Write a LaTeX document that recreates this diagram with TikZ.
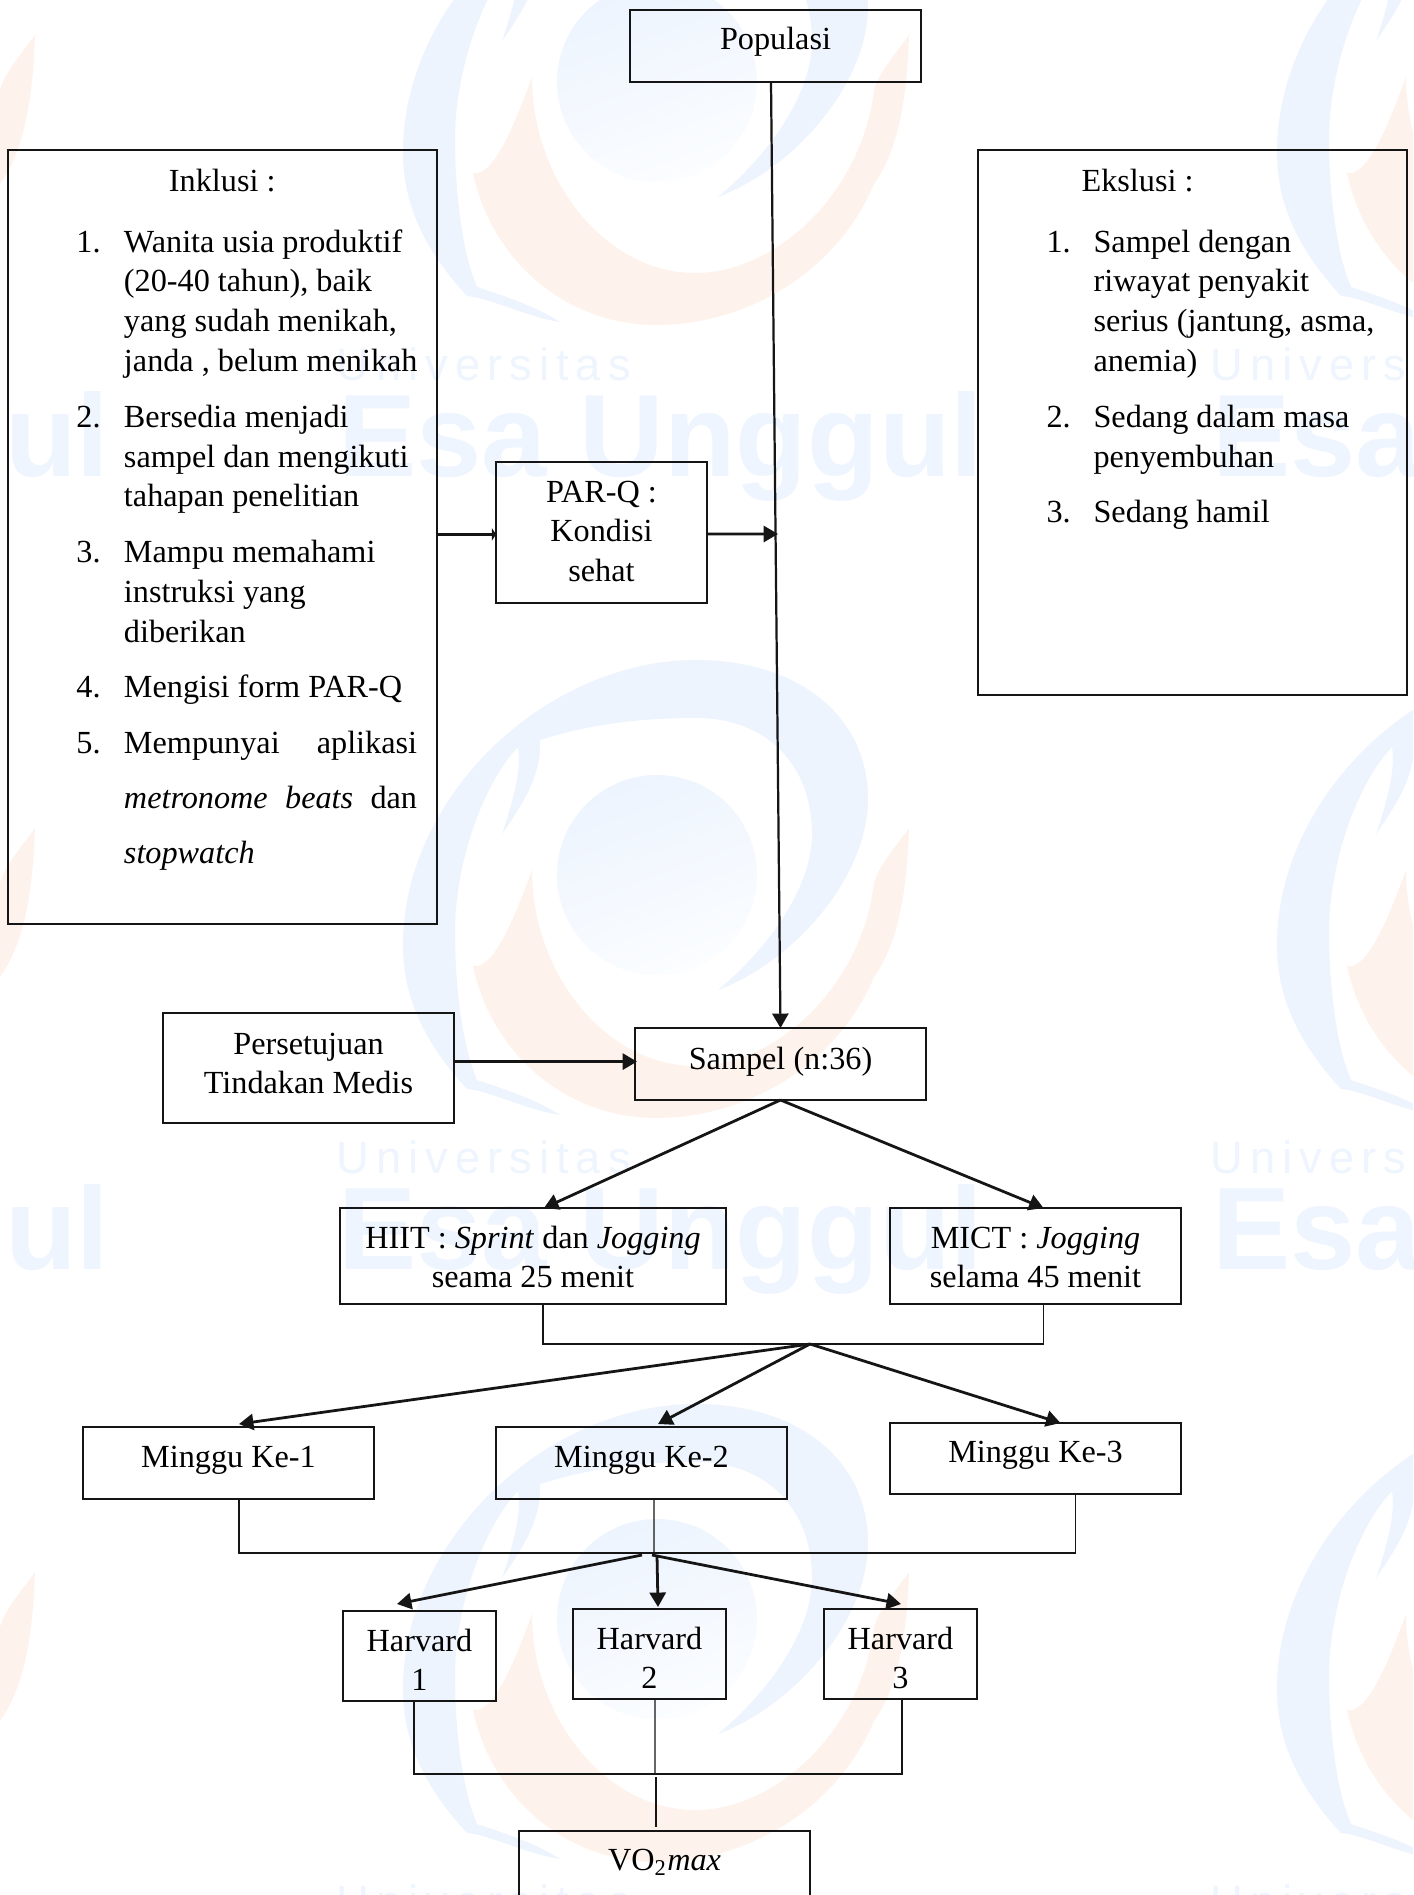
\documentclass[tikz,border=0pt]{standalone}
\usepackage{fontspec}
\setmainfont{Liberation Serif}
\newfontfamily\wmthin[LetterSpace=15.5]{Liberation Sans}
\newfontfamily\wmbold{Liberation Sans}
\usetikzlibrary{arrows.meta,calc}
\definecolor{wmblue}{HTML}{EDF4FE}
\definecolor{wmpale}{HTML}{FBFDFF}
\definecolor{wmorange}{HTML}{FEF3EC}
\definecolor{wmtext}{HTML}{EEF5FE}
\definecolor{inkline}{HTML}{151515}
\tikzset{
  boxn/.style={draw=inkline,line width=.4pt,inner sep=0pt,outer sep=0pt,rectangle,
    font=\fontsize{11.6}{14.36}\selectfont,text=black},
  thinl/.style={draw=inkline,line width=.4pt},
  arr/.style={draw=inkline,line width=1pt,-{Triangle[length=5.2pt,width=5.8pt]}},
  arrshort/.style={draw=inkline,line width=1pt,-{Triangle[length=1.5pt,width=4.5pt]}},
  wmu/.style={anchor=base west,inner sep=0pt,text=wmtext,font=\wmthin\fontsize{16.3}{18}\selectfont},
  wme/.style={anchor=base west,inner sep=0pt,text=wmtext,font=\wmbold\bfseries\fontsize{42.2}{50}\selectfont}
}
\newcommand{\ctrl}[1]{\begin{tabular}[t]{@{}c@{}}#1\end{tabular}}
% name, x1, y1, x2, y2, first baseline, text
\newcommand{\bx}[7]{%
  \pgfmathsetlengthmacro{\rz}{((#3+#5)/2-#6)*0.36pt}%
  \pgfmathsetlengthmacro{\bw}{(#4-#2)*0.36pt}%
  \pgfmathsetlengthmacro{\bh}{(#5-#3)*0.36pt}%
  \node[boxn,minimum width=\bw,minimum height=\bh] (#1) at ({(#2+#4)/2},{(#3+#5)/2})
    {\raisebox{\rz}[0pt][0pt]{\makebox[\bw][l]{\hspace*{0pt}\hfill#7\hfill}}};}
\newcommand{\wmlogo}[2]{%
  \begin{scope}[shift={(#1,#2)}]
    \fill[wmorange] (252,-47) .. controls (250,20) and (240,70) .. (217,102)
      .. controls (180,190) and (90,243) .. (-1,243)
      .. controls (-90,243) and (-165,180) .. (-184,91)
      .. controls (-165,95) and (-145,50) .. (-125,-5)
      .. controls (-125,100) and (-50,191) .. (38,191)
      .. controls (120,191) and (205,110) .. (217,8)
      .. controls (222,-10) and (240,-30) .. (252,-47) -- cycle;
    \fill[wmblue] (-190,214) .. controls (-235,165) and (-254,120) .. (-254,70)
      .. controls (-254,-80) and (-110,-215) .. (39,-215)
      .. controls (140,-215) and (211,-160) .. (211,-76)
      .. controls (211,0) and (140,85) .. (61,115)
      .. controls (115,70) and (155,10) .. (155,-41)
      .. controls (155,-110) and (110,-157) .. (39,-157)
      .. controls (-20,-157) and (-70,-150) .. (-117,-135)
      .. controls (-115,-100) and (-135,-70) .. (-155,-41)
      .. controls (-145,-70) and (-135,-105) .. (-139,-128)
      .. controls (-175,-90) and (-202,-10) .. (-202,57)
      .. controls (-202,110) and (-195,170) .. (-180,205)
      .. controls (-150,215) and (-120,225) .. (-97,240)
      .. controls (-130,235) and (-170,215) .. (-190,214) -- cycle;
    \path[left color=wmblue,right color=wmpale,shading angle=20]
      (0,0) circle [radius=100];
  \end{scope}}
\begin{document}
\begin{tikzpicture}[x=0.36pt,y=-0.36pt]
\useasboundingbox (0,0) rectangle (1413,1895);
\clip (0,0) rectangle (1413,1895);
\fill[white] (0,0) rectangle (1413,1895);
% watermark
\foreach \cy/\rw in {82/a,875/b,1619/c}{
  \foreach \cx/\cl in {-217/l,657/m,1531/r}{
    \wmlogo{\cx}{\cy}
    \node[wmu] (wu\rw\cl) at ($(\cx,\cy)+(-321,298)$) {Universitas};
    \node[wme] (we\rw\cl) at ($(\cx,\cy)+(-319,394)$) {Esa Unggul};
  }
}
% boxes
\bx{pop}{630}{10}{921}{82}{50}{\ctrl{Populasi}}
\bx{inkl}{8}{150}{437}{924}{191}{\hspace*{24.66pt}%
  \begin{tabular}[t]{@{}p{17.1pt}@{}l@{}}
  \multicolumn{2}{@{\hspace{33.3pt}}l@{}}{Inklusi :}\\[7.6pt]
  1. & Wanita usia produktif\\
     & (20-40 tahun), baik\\
     & yang sudah menikah,\\
     & janda , belum menikah\\[5.6pt]
  2. & Bersedia menjadi\\
     & sampel dan mengikuti\\
     & tahapan penelitian\\[5.6pt]
  3. & Mampu memahami\\
     & instruksi yang\\
     & diberikan\\[5.6pt]
  4. & Mengisi form PAR-Q\\[5.6pt]
  5. & \makebox[105.5pt][s]{Mempunyai\hfill aplikasi}\\[5.6pt]
     & \makebox[105.5pt][s]{\textit{metronome}\hfill\textit{beats}\hfill dan}\\[5.6pt]
     & \textit{stopwatch}
  \end{tabular}\hspace*{50pt}}
\bx{eks}{978}{150}{1407}{695}{191}{\hspace*{24.7pt}%
  \begin{tabular}[t]{@{}p{16.9pt}@{}l@{}}
  \multicolumn{2}{@{\hspace{12.6pt}}l@{}}{Ekslusi :}\\[7.6pt]
  1. & Sampel dengan\\
     & riwayat penyakit\\
     & serius (jantung, asma,\\
     & anemia)\\[5.6pt]
  2. & Sedang dalam masa\\
     & penyembuhan\\[5.6pt]
  3. & Sedang hamil
  \end{tabular}\hspace*{50pt}}
\bx{parq}{496}{462}{707}{603}{502}{\ctrl{PAR-Q :\\Kondisi\\sehat}}
\bx{pers}{163}{1013}{454}{1123}{1054}{\ctrl{Persetujuan\\Tindakan Medis}}
\bx{samp}{635}{1028}{926}{1100}{1069}{\ctrl{Sampel (n:36)}}
\bx{hiit}{340}{1208}{726}{1304}{1248}{\ctrl{HIIT : \textit{Sprint} dan \textit{Jogging}\\seama 25 menit}}
\bx{mict}{890}{1208}{1181}{1304}{1248}{\ctrl{MICT : \textit{Jogging}\\selama 45 menit}}
\bx{mga}{83}{1427}{374}{1499}{1467}{\ctrl{Minggu Ke-1}}
\bx{mgb}{496}{1427}{787}{1499}{1467}{\ctrl{Minggu Ke-2}}
\bx{mgc}{890}{1423}{1181}{1494}{1462}{\ctrl{Minggu Ke-3}}
\bx{hva}{343}{1611}{496}{1701}{1651}{\ctrl{Harvard\\1}}
\bx{hvb}{573}{1609}{726}{1699}{1649}{\ctrl{Harvard\\2}}
\bx{hvc}{824}{1609}{977}{1699}{1649}{\ctrl{Harvard\\3}}
\bx{vo}{519}{1831}{810}{1960}{1870}{\ctrl{VO\textsubscript{2}\textit{max}}}
% junctions
\coordinate (jmain) at (778,534);
\coordinate (jtreat) at (810,1344);
\coordinate (jweek) at (654,1553);
\coordinate (jharv) at (655,1774);
% upper connectors
\draw[arr,line width=.8pt] ($(pop.south)+(-4.5,0)$) -- (samp.north);
\draw[arrshort] ($(inkl.east |- parq.west)+(0,1.9)$) -- ($(parq.west)+(0,1.9)$);
\draw[arr] ($(parq.east)+(0,1.5)$) -- (jmain);
\draw[arr] ($(pers.east |- samp.west)+(0,-2.4)$) -- ($(samp.west)+(2,-2.4)$);
\draw[arr] (samp.south) -- ($(hiit.north)+(11,0)$);
\draw[arr] (samp.south) -- ($(mict.north)+(8,0)$);
% treatment bracket
\draw[thinl] ($(hiit.south)+(10,0)$) |- (jtreat) -| ($(mict.south)+(8,0)$);
\draw[arr] (jtreat) -- ($(mga.north)+(10.5,-3)$);
\draw[arr] (jtreat) -- ($(mgb.north)+(16.5,-3)$);
\draw[arr] (jtreat) -- ($(mgc.north)+(25,0)$);
% week bracket
\draw[thinl] ($(mga.south)+(10.5,0)$) |- (jweek) -| ($(mgc.south)+(40,0)$);
\draw[thinl] ($(mgb.south)+(12.5,0)$) -- (jweek);
\draw[arr] ($(jweek)+(-12,2)$) -- ($(hva.north)+(-22.5,-7)$);
\draw[arr] ($(jweek)+(3,2)$) -- ($(hvb.north)+(8.5,-2)$);
\draw[arr] ($(jweek)+(-2,2)$) -- ($(hvc.north)+(0.5,-5)$);
% harvard bracket
\draw[thinl] ($(hva.south)+(-5.5,0)$) |- (jharv) -| ($(hvc.south)+(1.5,0)$);
\draw[thinl] ($(hvb.south)+(5.5,0)$) -- (jharv);
\draw[thinl] ($(jharv)+(1,3)$) -- ($(vo.north)+(-8.5,-4)$);
\end{tikzpicture}
\end{document}
